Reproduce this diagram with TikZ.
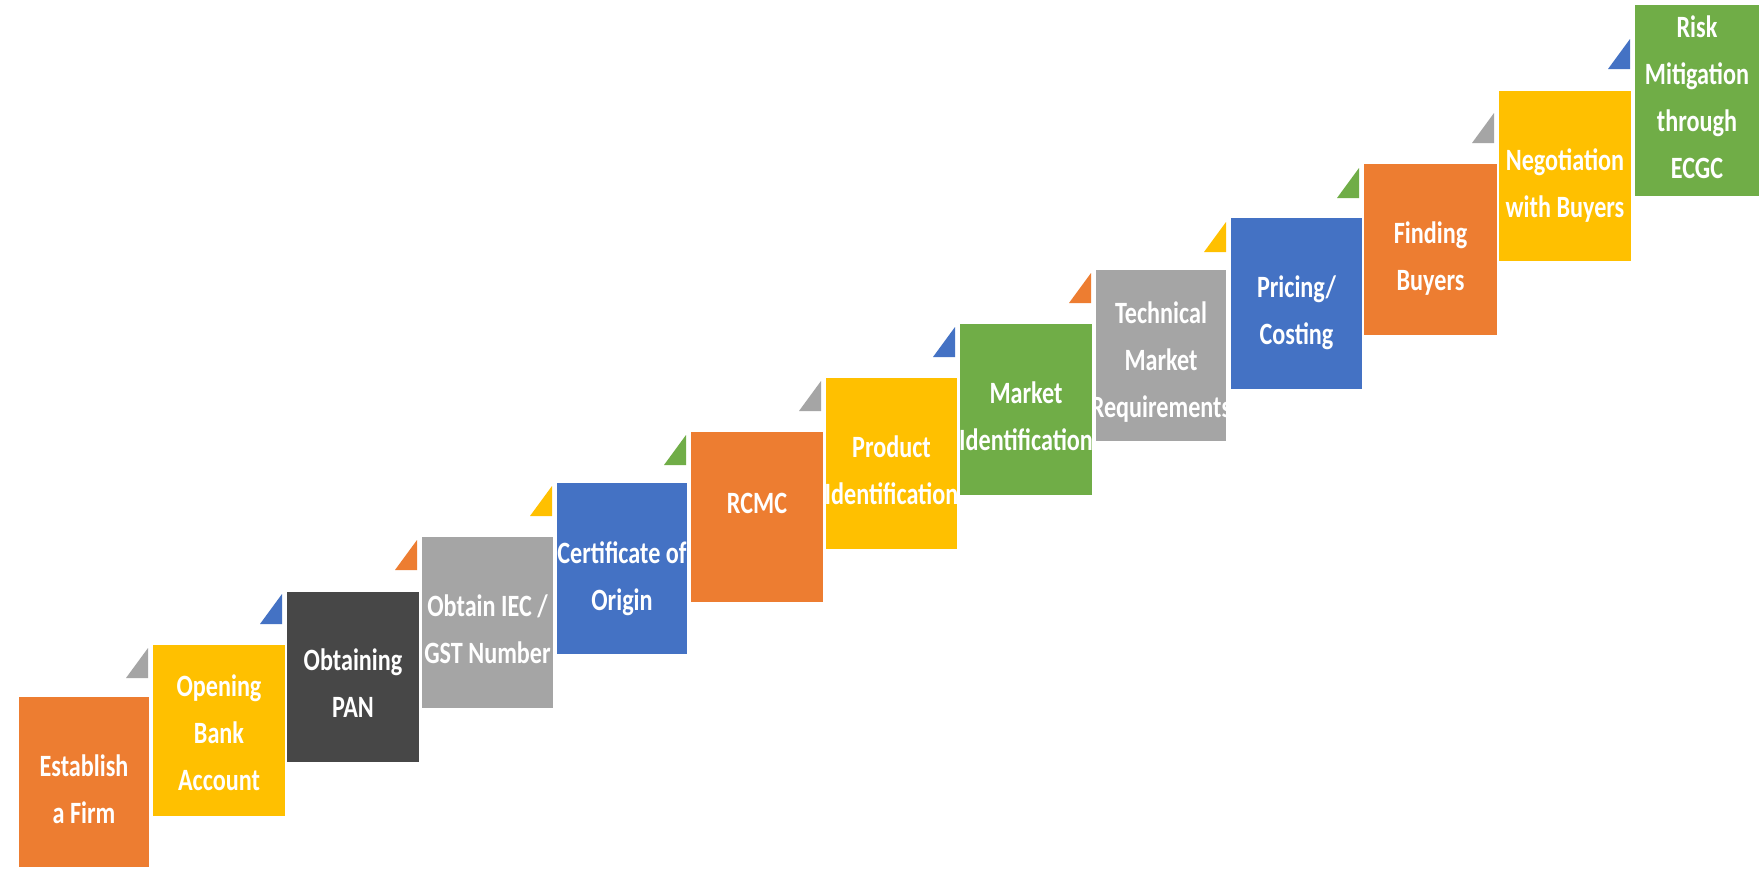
\documentclass[tikz,border=0pt]{standalone}
\usepackage{fontspec}
\setmainfont[FakeStretch=0.78]{Carlito}
\definecolor{corange}{HTML}{ED7D31}
\definecolor{cyellow}{HTML}{FFC000}
\definecolor{cdark}{HTML}{474747}
\definecolor{cgray}{HTML}{A5A5A5}
\definecolor{cblue}{HTML}{4472C4}
\definecolor{cgreen}{HTML}{70AD47}
\newcommand\steplines[1]{\vtop{\baselineskip=47pt\lineskiplimit=-100pt\lineskip=0pt\halign{\hfil##\hfil\cr#1\crcr}}}
\tikzset{
  stepbox/.style={draw=none, inner sep=0pt, outer sep=0pt},
  steptext/.style={anchor=base, inner sep=0pt, text=white, font=\fontsize{31}{47}\selectfont\bfseries},
}
\begin{document}
\begin{tikzpicture}[x=1pt,y=-1pt]
\useasboundingbox[fill=white] (0,0) rectangle (1759,868);
% boxes: (left,top) rectangle (right,bottom)
\node[stepbox, fill=corange, minimum width=130pt, minimum height=170pt] (b1) at (84,782) {};
\node[stepbox, fill=cyellow, minimum width=132pt, minimum height=171pt] (b2) at (219,730.5) {};
\node[stepbox, fill=cdark, minimum width=132pt, minimum height=170pt] (b3) at (353,677) {};
\node[stepbox, fill=cgray, minimum width=131pt, minimum height=171pt] (b4) at (487.5,622.5) {};
\node[stepbox, fill=cblue, minimum width=130pt, minimum height=171pt] (b5) at (622,568.5) {};
\node[stepbox, fill=corange, minimum width=132pt, minimum height=170pt] (b6) at (757,517) {};
\node[stepbox, fill=cyellow, minimum width=131pt, minimum height=171pt] (b7) at (891.5,463.5) {};
\node[stepbox, fill=cgreen, minimum width=132pt, minimum height=171pt] (b8) at (1026,409.5) {};
\node[stepbox, fill=cgray, minimum width=130pt, minimum height=171pt] (b9) at (1161,355.5) {};
\node[stepbox, fill=cblue, minimum width=131pt, minimum height=171pt] (b10) at (1296.5,303.5) {};
\node[stepbox, fill=corange, minimum width=133pt, minimum height=171pt] (b11) at (1430.5,249.5) {};
\node[stepbox, fill=cyellow, minimum width=132pt, minimum height=170pt] (b12) at (1565,176) {};
\node[stepbox, fill=cgreen, minimum width=124pt, minimum height=191pt] (b13) at (1697,100.5) {};
% triangles
\fill[cgray]   (148,648) -- (148,678) -- (126,678) -- cycle;
\fill[cblue]   (282,594) -- (282,624) -- (260,624) -- cycle;
\fill[corange] (417,540) -- (417,570) -- (395,570) -- cycle;
\fill[cyellow] (552,486) -- (552,516) -- (530,516) -- cycle;
\fill[cgreen]  (686,435) -- (686,465) -- (664,465) -- cycle;
\fill[cgray]   (821,381) -- (821,411) -- (799,411) -- cycle;
\fill[cblue]   (955,327) -- (955,357) -- (933,357) -- cycle;
\fill[corange] (1091,273) -- (1091,303) -- (1069,303) -- cycle;
\fill[cyellow] (1226,222) -- (1226,252) -- (1204,252) -- cycle;
\fill[cgreen]  (1359,168) -- (1359,198) -- (1337,198) -- cycle;
\fill[cgray]   (1494,113) -- (1494,143) -- (1472,143) -- cycle;
\fill[cblue]   (1630,39) -- (1630,69) -- (1608,69) -- cycle;
% texts
\node[steptext] (t1) at (84,776) {\steplines{Establish\cr a Firm}};
\node[steptext] (t2) at (219,696) {\steplines{Opening\cr Bank\cr Account}};
\node[steptext] (t3) at (353,670) {\steplines{Obtaining\cr PAN}};
\node[steptext] (t4) at (487.5,616) {\steplines{Obtain IEC /\cr GST Number}};
\node[steptext] (t5) at (622,563) {\steplines{Certificate of\cr Origin}};
\node[steptext] (t6) at (757,513) {\steplines{RCMC}};
\node[steptext] (t7) at (891.5,457) {\steplines{Product\cr Identification}};
\node[steptext] (t8) at (1026,403) {\steplines{Market\cr Identification}};
\node[steptext] (t9) at (1161,323) {\steplines{Technical\cr Market\cr Requirements}};
\node[steptext] (t10) at (1296.5,297) {\steplines{Pricing/\cr Costing}};
\node[steptext] (t11) at (1430.5,243) {\steplines{Finding\cr Buyers}};
\node[steptext] (t12) at (1565,170) {\steplines{Negotiation\cr with Buyers}};
\node[steptext] (t13) at (1697,37) {\steplines{Risk\cr Mitigation\cr through\cr ECGC}};
\end{tikzpicture}
\end{document}
